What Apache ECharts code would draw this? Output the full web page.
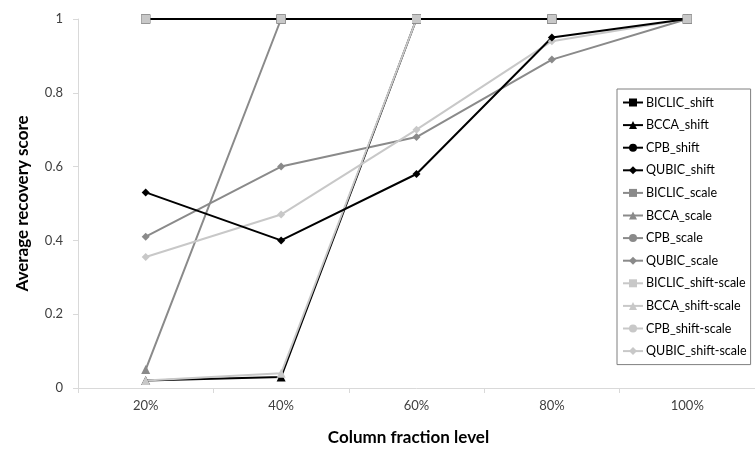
<!DOCTYPE html>
<html>
<head>
<meta charset="utf-8">
<script src="https://cdn.jsdelivr.net/npm/echarts@6/dist/echarts.min.js"></script>
<style>
  html, body { margin: 0; padding: 0; background: #fff; }
  #chart { width: 755px; height: 451px; }
</style>
</head>
<body>
<div id="chart"></div>
<script>
// column fraction levels
const categories = ['20%', '40%', '60%', '80%', '100%']
const yTicks = [0, 0.2, 0.4, 0.6, 0.8, 1]

// shift
const biclicShift = [1, 1, 1, 1, 1]
const bccaShift = [0.02, 0.03, 1, 1, 1]
const cpbShift = [1, 1, 1, 1, 1]
const qubicShift = [0.53, 0.40, 0.58, 0.95, 1]
// scale
const biclicScale = [1, 1, 1, 1, 1]
const bccaScale = [0.05, 1, 1, 1, 1]
const cpbScale = [1, 1, 1, 1, 1]
const qubicScale = [0.41, 0.60, 0.68, 0.89, 1]
// shift-scale
const biclicShiftScale = [1, 1, 1, 1, 1]
const bccaShiftScale = [0.02, 0.04, 1, 1, 1]
const cpbShiftScale = [1, 1, 1, 1, 1]
const qubicShiftScale = [0.355, 0.47, 0.70, 0.94, 1]

const BLACK = '#000000'
const GRAY = '#8a8a8a'
const LIGHT = '#c8c8c8'
const FONT = 'Lato, "Open Sans", sans-serif'

function makeSeries(name, data, color, symbol, size) {
  return {
    name: name,
    type: 'line',
    data: data,
    symbol: symbol,
    symbolSize: size,
    lineStyle: { color: color, width: 2 },
    itemStyle: { color: color },
    emphasis: { disabled: true },
    animation: false
  }
}

const biclicShiftS = makeSeries('BICLIC_shift', biclicShift, BLACK, 'rect', 9)
const bccaShiftS = makeSeries('BCCA_shift', bccaShift, BLACK, 'triangle', 9)
const cpbShiftS = makeSeries('CPB_shift', cpbShift, BLACK, 'circle', 8)
const qubicShiftS = makeSeries('QUBIC_shift', qubicShift, BLACK, 'diamond', 8)
const scaleSeries = [
  makeSeries('BICLIC_scale', biclicScale, GRAY, 'rect', 9),
  makeSeries('BCCA_scale', bccaScale, GRAY, 'triangle', 9),
  makeSeries('CPB_scale', cpbScale, GRAY, 'circle', 8),
  makeSeries('QUBIC_scale', qubicScale, GRAY, 'diamond', 8)
]
const shiftScaleSeries = [
  makeSeries('BICLIC_shift-scale', biclicShiftScale, LIGHT, 'rect', 9),
  makeSeries('BCCA_shift-scale', bccaShiftScale, LIGHT, 'triangle', 9),
  makeSeries('CPB_shift-scale', cpbShiftScale, LIGHT, 'circle', 8),
  makeSeries('QUBIC_shift-scale', qubicShiftScale, LIGHT, 'diamond', 8)
]
const legendNames = [biclicShiftS, bccaShiftS, cpbShiftS, qubicShiftS]
  .concat(scaleSeries, shiftScaleSeries).map(s => s.name)

// black lines sit on top of the y=1 line, but the light squares stay visible on top
const markerOverlay = makeSeries('BICLIC_shift-scale', biclicShiftScale, LIGHT, 'rect', 9)
markerOverlay.lineStyle = { width: 0, opacity: 0 }
markerOverlay.z = 5

const chart = echarts.init(document.getElementById('chart'))
chart.setOption({
  backgroundColor: '#ffffff',
  animation: false,
  textStyle: { fontFamily: FONT },
  grid: {
    left: 78,
    top: 19,
    width: 692,
    height: 373
  },
  legend: {
    orient: 'vertical',
    left: 617,
    top: 89,
    padding: [7, 4, 7, 5],
    itemWidth: 20,
    itemHeight: 10,
    itemGap: 9.6,
    borderColor: '#7f7f7f',
    borderWidth: 1,
    backgroundColor: '#ffffff',
    textStyle: { fontFamily: FONT, fontSize: 12.5, color: '#000000', padding: [0, 0, 0, -2] },
    data: legendNames
  },
  xAxis: {
    type: 'category',
    data: categories,
    boundaryGap: true,
    name: 'Column fraction level',
    nameLocation: 'middle',
    nameGap: 41,
    nameTextStyle: { fontFamily: FONT, fontSize: 17, fontWeight: 'bold', color: '#000000', padding: [0, 16, 0, 0] },
    axisLine: { lineStyle: { color: '#d9d9d9', width: 1 } },
    axisTick: { show: true, length: 5, lineStyle: { color: '#d9d9d9' } },
    axisLabel: { fontFamily: FONT, fontSize: 13, color: '#404040', margin: 11 },
    splitLine: { show: false }
  },
  yAxis: {
    type: 'value',
    min: yTicks[0],
    max: yTicks[yTicks.length - 1],
    interval: 0.2,
    name: 'Average recovery score',
    nameLocation: 'middle',
    nameGap: 47,
    nameTextStyle: { fontFamily: FONT, fontSize: 17, fontWeight: 'bold', color: '#000000' },
    axisLine: { show: true, lineStyle: { color: '#d9d9d9', width: 1 } },
    axisTick: { show: true, length: 5, lineStyle: { color: '#d9d9d9' } },
    axisLabel: { fontFamily: FONT, fontSize: 13, color: '#404040', margin: 15 },
    splitLine: { show: false }
  },
  series: scaleSeries.concat([bccaShiftS], shiftScaleSeries, [biclicShiftS, cpbShiftS, qubicShiftS, markerOverlay])
})
</script>
</body>
</html>
